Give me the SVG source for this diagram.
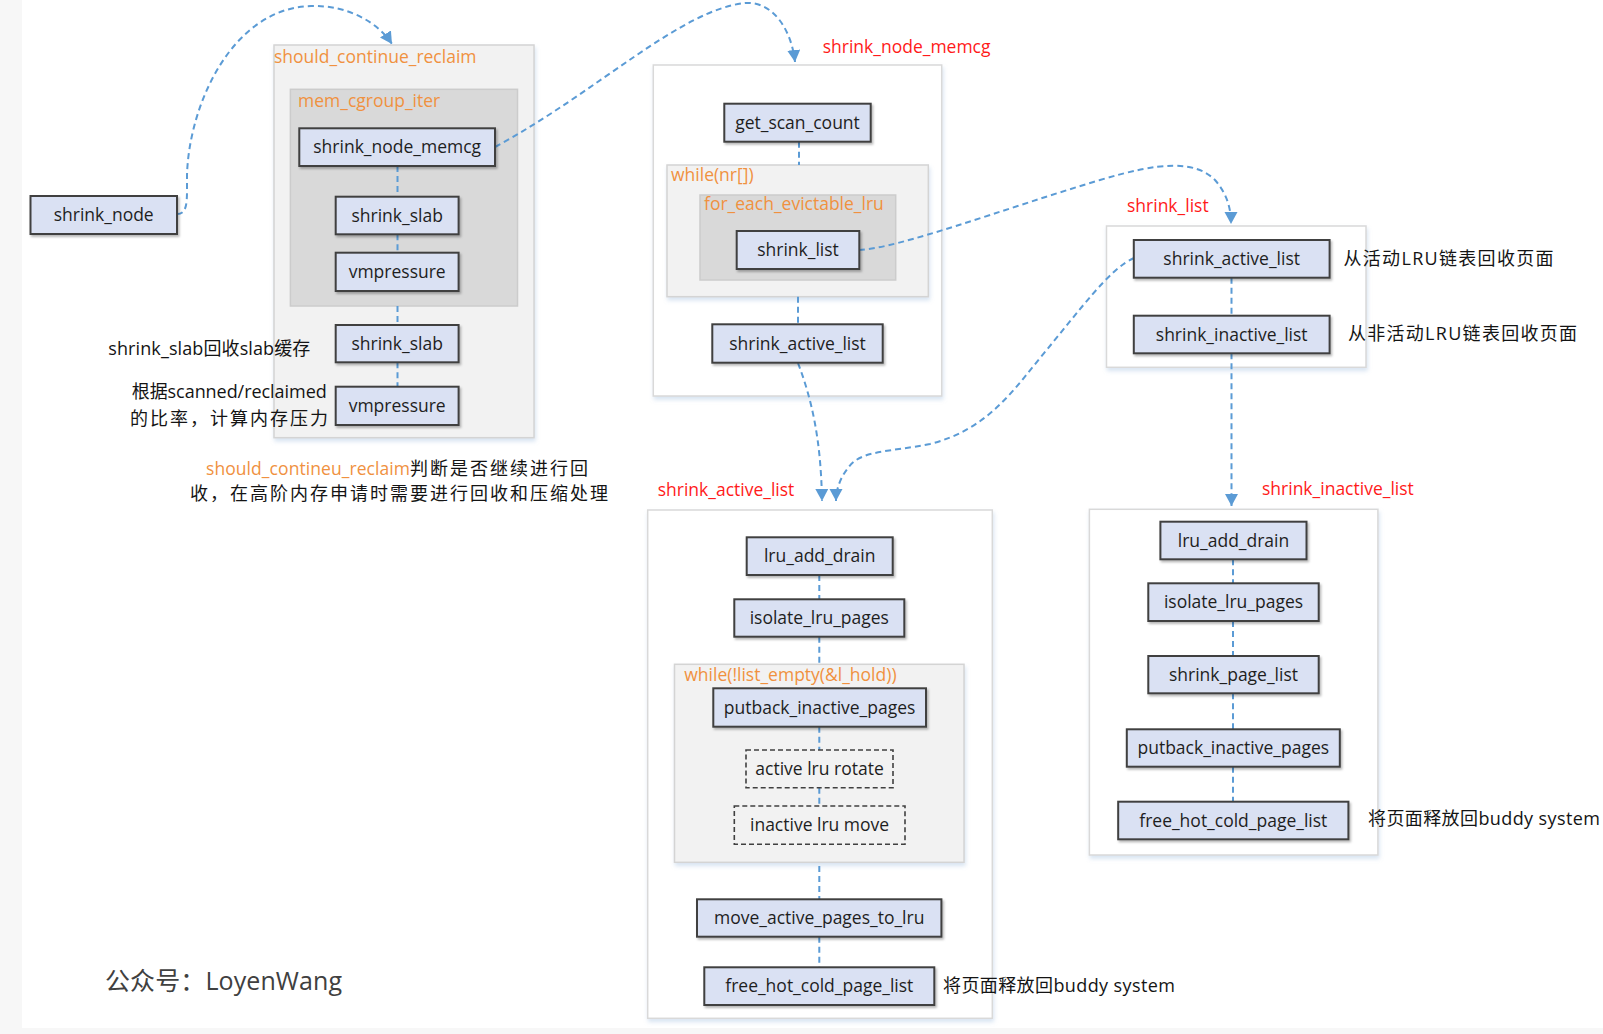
<svg xmlns="http://www.w3.org/2000/svg" width="1603" height="1034" viewBox="0 0 1603 1034">
<defs>
<style>
.nd{fill:#dae1f3;stroke:#404040;stroke-width:2;filter:url(#sh)}
.dn{fill:none;stroke:#404040;stroke-width:1.6;stroke-dasharray:5 3}
.ct{fill:#ffffff;stroke:#d9d9d9;stroke-width:1.5;filter:url(#csh)}
.cg1{fill:#f2f2f2;stroke:#d4d4d4;stroke-width:1.5;filter:url(#csh)}
.cg2{fill:#d9d9d9;stroke:#cccccc;stroke-width:1.5}
.t{font-family:"Open Sans","Noto Sans CJK SC",sans-serif;font-size:17.5px;fill:#1e1e1e;text-anchor:middle}
.red{font-family:"Open Sans","Noto Sans CJK SC",sans-serif;font-size:17.5px;fill:#ff1a1a}
.org{font-family:"Open Sans","Noto Sans CJK SC",sans-serif;font-size:17.5px;fill:#f0913f}
.an{font-family:"Open Sans","Noto Sans CJK SC",sans-serif;font-size:18px;fill:#141414}
.ln{fill:none;stroke:#5b9bd5;stroke-width:2;stroke-dasharray:6 4}
.ar{marker-end:url(#ah)}
</style>
<filter id="sh" x="-10%" y="-20%" width="130%" height="160%">
<feDropShadow dx="1.5" dy="2" stdDeviation="1.2" flood-color="#000000" flood-opacity="0.28"/>
</filter>
<filter id="csh" x="-5%" y="-5%" width="115%" height="115%">
<feDropShadow dx="1" dy="3" stdDeviation="2" flood-color="#8fb0d8" flood-opacity="0.35"/>
</filter>
<marker id="ah" markerUnits="userSpaceOnUse" markerWidth="14" markerHeight="14" refX="12" refY="6.5" orient="auto">
<path d="M0,0 L12,6.5 L0,13 z" fill="#5b9bd5"/>
</marker>
</defs>

<rect x="0" y="0" width="1603" height="1034" fill="#f7f7f7"/>
<rect x="22" y="0" width="1581" height="1028" fill="#ffffff"/>

<!-- containers -->
<g id="c_should_continue_reclaim">
<rect class="cg1" x="274" y="45" width="260" height="392.7"/>
<text class="org" x="274" y="62.5">should_continue_reclaim</text>
</g>
<g id="c_mem_cgroup_iter">
<rect class="cg2" x="290.4" y="89.3" width="227.1" height="216.7"/>
<text class="org" x="298" y="106.5">mem_cgroup_iter</text>
</g>
<g id="c_shrink_node_memcg">
<rect class="ct" x="653.3" y="65" width="288.4" height="331"/>
<text class="red" x="822.7" y="53.3">shrink_node_memcg</text>
</g>
<g id="c_while_nr">
<rect class="cg1" x="667" y="165" width="261.3" height="131.7"/>
<text class="org" x="671" y="180.5">while(nr[])</text>
</g>
<g id="c_for_each_evictable_lru">
<rect class="cg2" x="700" y="195" width="195.7" height="85"/>
<text class="org" x="704" y="209.5">for_each_evictable_lru</text>
</g>
<g id="c_shrink_list">
<rect class="ct" x="1106.5" y="226" width="259.5" height="141.3"/>
<text class="red" x="1127" y="211.7">shrink_list</text>
</g>
<g id="c_shrink_active_list">
<rect class="ct" x="647.7" y="510" width="344.6" height="508.3"/>
<text class="red" x="657.7" y="496">shrink_active_list</text>
</g>
<g id="c_while_list_empty">
<rect class="cg1" x="674.5" y="664.3" width="289.5" height="198"/>
<text class="org" x="684.3" y="681">while(!list_empty(&amp;l_hold))</text>
</g>
<g id="c_shrink_inactive_list">
<rect class="ct" x="1089.4" y="509.3" width="288.5" height="345.7"/>
<text class="red" x="1262" y="495">shrink_inactive_list</text>
</g>

<!-- connectors -->
<g id="connectors">
<path class="ln ar" d="M177,214 C186,214 187,205 187,190 L187,175 C189,105 232,8 311,6 C350,5 379,24 392,44"/>
<path class="ln ar" d="M495,147 C600,90 680,10 745,3 C775,1 792,33 795,62"/>
<path class="ln ar" d="M859,250 C900,248 1000,210 1100,180 C1160,162 1195,160 1215,180 C1228,195 1231,210 1231,224"/>
<path class="ln ar" d="M798,363 C812,400 821,440 822,501"/>
<path class="ln ar" d="M1134,258 C1110,268 1080,310 1040,358 C1010,395 985,430 930,444 C890,452 860,450 848,468 C840,478 836,490 836,501"/>
<path class="ln ar" d="M1231.5,353.3 L1231.5,506"/>
<path class="ln" d="M397.5,166 V196.7 M397.5,234.3 V252.7 M397.5,306 V325 M397.5,362.3 V386.7"/>
<path class="ln" d="M799,141.7 V165 M798,296.7 V324.3"/>
<path class="ln" d="M1231.5,277.7 V315.7"/>
<path class="ln" d="M819.3,575 V599.3 M819.3,636.7 V664.3 M819.3,726.7 V750 M819.3,787.7 V806 M819.3,866 V899.3 M819.3,936.7 V967.3"/>
<path class="ln" d="M1233,559.3 V583.3 M1233,621 V656 M1233,693.3 V729.3 M1233,766.7 V801.7"/>
</g>

<!-- nodes -->
<g id="n_shrink_node"><rect class="nd" x="30.5" y="196" width="146.5" height="38"/><text class="t" x="103.7" y="221">shrink_node</text></g>
<g id="n_shrink_node_memcg"><rect class="nd" x="299.3" y="128.3" width="195.7" height="37.7"/><text class="t" x="397.2" y="153">shrink_node_memcg</text></g>
<g id="n_shrink_slab_1"><rect class="nd" x="335.7" y="196.7" width="122.9" height="37.6"/><text class="t" x="397.2" y="221.5">shrink_slab</text></g>
<g id="n_vmpressure_1"><rect class="nd" x="335.7" y="252.7" width="122.9" height="38.3"/><text class="t" x="397.2" y="277.8">vmpressure</text></g>
<g id="n_shrink_slab_2"><rect class="nd" x="335.7" y="325" width="122.9" height="37.3"/><text class="t" x="397.2" y="349.6">shrink_slab</text></g>
<g id="n_vmpressure_2"><rect class="nd" x="335.7" y="386.7" width="122.9" height="38.3"/><text class="t" x="397.2" y="411.8">vmpressure</text></g>

<g id="n_get_scan_count"><rect class="nd" x="724.3" y="103.7" width="146.4" height="38"/><text class="t" x="797.5" y="128.7">get_scan_count</text></g>
<g id="n_shrink_list"><rect class="nd" x="736.7" y="231" width="122.6" height="38"/><text class="t" x="798" y="256">shrink_list</text></g>
<g id="n_shrink_active_list_1"><rect class="nd" x="712.3" y="324.3" width="170.4" height="38.4"/><text class="t" x="797.5" y="349.5">shrink_active_list</text></g>

<g id="n_shrink_active_list_2"><rect class="nd" x="1133.8" y="240" width="195.8" height="37.7"/><text class="t" x="1231.7" y="264.8">shrink_active_list</text></g>
<g id="n_shrink_inactive_list"><rect class="nd" x="1133.8" y="315.7" width="195.8" height="37.6"/><text class="t" x="1231.7" y="340.5">shrink_inactive_list</text></g>

<g id="n_lru_add_drain_1"><rect class="nd" x="746.7" y="537.3" width="146" height="37.7"/><text class="t" x="819.7" y="562">lru_add_drain</text></g>
<g id="n_isolate_lru_pages_1"><rect class="nd" x="734.3" y="599.3" width="170" height="37.4"/><text class="t" x="819.3" y="624">isolate_lru_pages</text></g>
<g id="n_putback_inactive_pages_1"><rect class="nd" x="713.3" y="688.3" width="212.7" height="38.4"/><text class="t" x="819.6" y="713.5">putback_inactive_pages</text></g>
<g id="n_active_lru_rotate"><rect class="dn" x="746" y="750" width="147" height="37.7"/><text class="t" x="819.5" y="775">active lru rotate</text></g>
<g id="n_inactive_lru_move"><rect class="dn" x="734.3" y="806" width="170.7" height="38.3"/><text class="t" x="819.6" y="831">inactive lru move</text></g>
<g id="n_move_active_pages_to_lru"><rect class="nd" x="697" y="899.3" width="244.4" height="37.4"/><text class="t" x="819.2" y="924">move_active_pages_to_lru</text></g>
<g id="n_free_hot_cold_page_list_1"><rect class="nd" x="704.3" y="967.3" width="230" height="37.7"/><text class="t" x="819.3" y="992">free_hot_cold_page_list</text></g>

<g id="n_lru_add_drain_2"><rect class="nd" x="1160.4" y="521.7" width="146.1" height="37.6"/><text class="t" x="1233.5" y="546.5">lru_add_drain</text></g>
<g id="n_isolate_lru_pages_2"><rect class="nd" x="1148.3" y="583.3" width="170.4" height="37.7"/><text class="t" x="1233.5" y="608">isolate_lru_pages</text></g>
<g id="n_shrink_page_list"><rect class="nd" x="1148.3" y="656" width="170.4" height="37.3"/><text class="t" x="1233.5" y="680.6">shrink_page_list</text></g>
<g id="n_putback_inactive_pages_2"><rect class="nd" x="1126.8" y="729.3" width="213" height="37.4"/><text class="t" x="1233.3" y="754">putback_inactive_pages</text></g>
<g id="n_free_hot_cold_page_list_2"><rect class="nd" x="1118.2" y="801.7" width="230.2" height="37.6"/><text class="t" x="1233.3" y="826.5">free_hot_cold_page_list</text></g>

<!-- annotations -->
<g id="annotations">
<text class="an" x="108.3" y="355" textLength="202" lengthAdjust="spacing">shrink_slab回收slab缓存</text>
<text class="an" x="131.7" y="398" textLength="195" lengthAdjust="spacing">根据scanned/reclaimed</text>
<text class="an" x="130" y="425" textLength="198" lengthAdjust="spacing">的比率，计算内存压力</text>
<text class="org" x="206" y="475" textLength="204" lengthAdjust="spacing">should_contineu_reclaim</text>
<text class="an" x="410" y="475" textLength="178" lengthAdjust="spacing">判断是否继续进行回</text>
<text class="an" x="190" y="500" textLength="418" lengthAdjust="spacing">收，在高阶内存申请时需要进行回收和压缩处理</text>
<text class="an" x="1343.5" y="265" textLength="210" lengthAdjust="spacing">从活动LRU链表回收页面</text>
<text class="an" x="1348" y="340" textLength="229" lengthAdjust="spacing">从非活动LRU链表回收页面</text>
<text class="an" x="943" y="991.5" textLength="232" lengthAdjust="spacing">将页面释放回buddy system</text>
<text class="an" x="1368" y="825" textLength="232" lengthAdjust="spacing">将页面释放回buddy system</text>
<text class="an" x="105" y="990" style="font-size:25px;fill:#404040" textLength="237" lengthAdjust="spacing">公众号：LoyenWang</text>
</g>
</svg>
